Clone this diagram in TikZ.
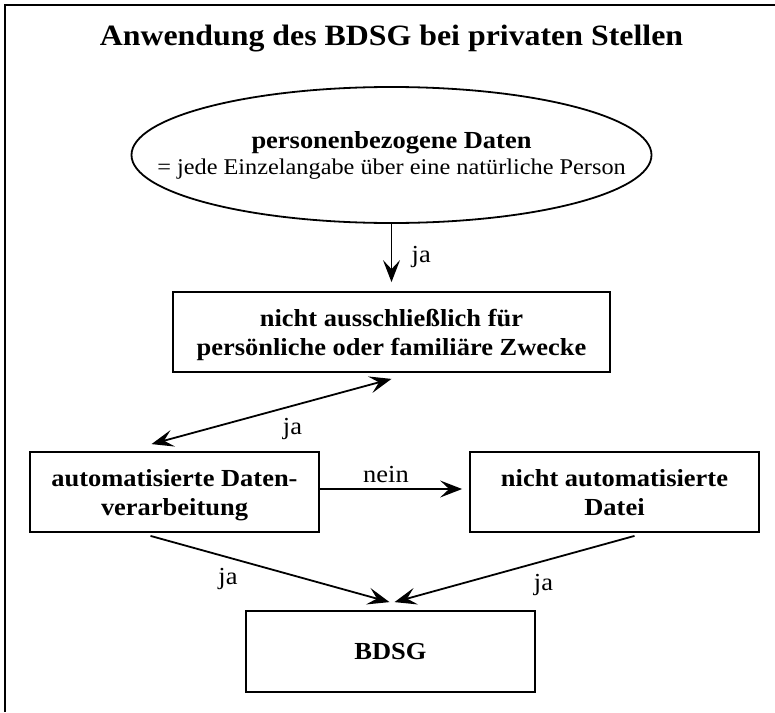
\documentclass[tikz,border=0pt]{standalone}
\usepackage{fontspec}
\setmainfont{Liberation Serif}[FakeStretch=1.08]
\usetikzlibrary{shapes.geometric,arrows.meta}
\begin{document}
\begin{tikzpicture}[>={Stealth[length=22pt,width=17pt,inset=9pt]},x=1pt,y=-1pt,
	kasten/.style={draw,line width=1.8pt,minimum width=289pt,minimum height=80pt,text depth=-8pt,align=center,font=\bfseries\fontsize{24.5}{29}\selectfont},
	pfeil/.style={->,line width=1.8pt},
	beschrift/.style={font=\fontsize{24.5}{28}\selectfont}]
	\useasboundingbox (0,0) rectangle (775,712);
	% Rahmen: nur links und oben sichtbar
	\draw[line width=2.5pt] (5,712) -- (5,5) -- (775,5);
	\node[font=\bfseries\fontsize{29.5}{32}\selectfont,anchor=base] (titel) at (391.5,45) {Anwendung des BDSG bei privaten Stellen};
	% Ellipse oben, Text extra
	\node[ellipse,draw,line width=1.8pt,minimum width=520pt,minimum height=136pt,inner sep=0pt] (daten) at (391.5,155) {};
	\node[align=center,font=\fontsize{24.5}{26}\selectfont] (datentext) at (daten.center) {\textbf{personenbezogene Daten}\\{\fontsize{22.5}{26}\selectfont = jede Einzelangabe über eine natürliche Person}};
	\node[kasten,minimum width=437pt] (zweck) at (391.5,332) {nicht ausschließlich für\\persönliche oder familiäre Zwecke};
	\node[kasten] (auto) at (174.5,492) {automatisierte Daten-\\verarbeitung};
	\node[kasten] (datei) at (614.5,492) {nicht automatisierte\\Datei};
	\node[kasten,minimum height=81pt] (bdsg) at (390.5,651.5) {BDSG};
	% Pfeile
	\draw[pfeil] (daten.south) -- ([yshift=9pt]zweck.north) node[beschrift,midway,right=16pt,yshift=-4pt]{ja};
	\draw[pfeil,<->] ([yshift=-6pt]zweck.south) -- ([xshift=-23pt,yshift=7pt]auto.north) node[beschrift,midway,xshift=21pt,yshift=-17pt]{ja};
	\draw[pfeil] ([yshift=3pt]auto.east) -- ([xshift=-7pt,yshift=3pt]datei.west) node[beschrift,midway,above=2pt,xshift=-5pt]{nein};
	\draw[pfeil] ([xshift=-24pt,yshift=-3pt]auto.south) -- ([xshift=-1pt,yshift=8pt]bdsg.north) node[beschrift,midway,xshift=-42pt,yshift=-10pt]{ja};
	\draw[pfeil] ([xshift=20pt,yshift=-3pt]datei.south) -- ([xshift=4pt,yshift=8pt]bdsg.north) node[beschrift,midway,xshift=29pt,yshift=-16pt]{ja};
\end{tikzpicture}
\end{document}
